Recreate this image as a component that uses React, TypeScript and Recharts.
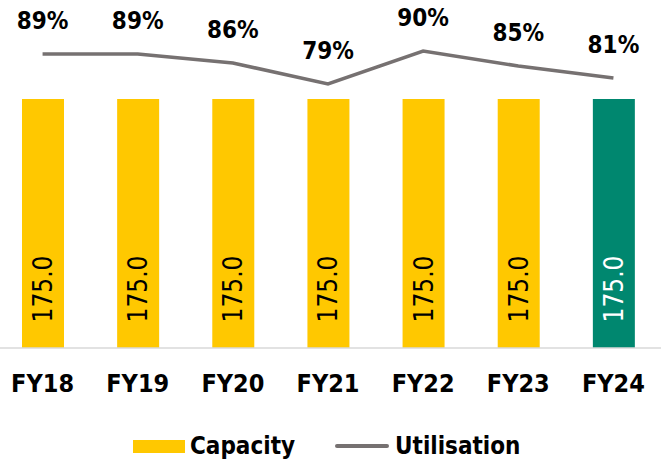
import { ComposedChart, Bar, Line, XAxis, YAxis, Legend, LabelList, Cell } from "recharts";

const years = ["FY18", "FY19", "FY20", "FY21", "FY22", "FY23", "FY24"];
const capacity = [175.0, 175.0, 175.0, 175.0, 175.0, 175.0, 175.0];
const utilisation = [89, 89, 86, 79, 90, 85, 81];

const YELLOW = "#FFC800";
const TEAL = "#00876F";
const GREY = "#767171";
const FONT = "'DejaVu Sans Condensed', 'DejaVu Sans', sans-serif";

const data = years.map((year, i) => ({
  year,
  capacity: capacity[i],
  utilisation: utilisation[i],
}));

const BarValue = (props: any) => {
  const { x, y, width, height, value, index } = props;
  const cx = x + width / 2;
  const cy = y + height - 59;
  return (
    <text
      x={cx}
      y={cy}
      transform={`rotate(-90 ${cx} ${cy})`}
      textAnchor="middle"
      dominantBaseline="central"
      fill={index === years.length - 1 ? "#fff" : "#000"}
      fontSize={26}
      fontFamily={FONT}
      fontStretch="condensed"
    >
      {Number(value).toFixed(1)}
    </text>
  );
};

const PctValue = (props: any) => {
  const { x, y, value } = props;
  return (
    <text
      x={x}
      y={y - 33}
      textAnchor="middle"
      dominantBaseline="central"
      fill="#000"
      fontSize={24}
      fontWeight="bold"
      fontFamily={FONT}
      fontStretch="condensed"
    >
      {value}%
    </text>
  );
};

const YearTick = (props: any) => {
  const { x, payload } = props;
  return (
    <text
      x={x}
      y={383}
      textAnchor="middle"
      dominantBaseline="central"
      fill="#000"
      fontSize={25}
      fontWeight="bold"
      fontFamily={FONT}
      fontStretch="condensed"
    >
      {payload.value}
    </text>
  );
};

const LegendBox = (props: any) => {
  const items = props.payload || [];
  return (
    <div
      style={{
        display: "flex",
        alignItems: "center",
        height: 50,
        paddingTop: 18,
        paddingLeft: 138,
        boxSizing: "border-box",
        fontFamily: FONT,
        fontStretch: "condensed",
        fontWeight: "bold",
        fontSize: 24,
        color: "#000",
      }}
    >
      {items.map((item: any) => (
        <div key={item.value} style={{ display: "flex", alignItems: "center", marginRight: 40 }}>
          {item.dataKey === "capacity" ? (
            <span style={{ display: "inline-block", width: 52, height: 13, background: YELLOW, marginRight: 5 }} />
          ) : (
            <span style={{ display: "inline-block", width: 54, height: 4, borderRadius: 2, background: GREY, marginRight: 6 }} />
          )}
          <span>{item.value}</span>
        </div>
      ))}
    </div>
  );
};

export default function App() {
  return (
    <div style={{ position: "absolute", left: 0, top: 0, background: "#fff" }}>
      <ComposedChart
        width={667}
        height={462}
        data={data}
        margin={{ top: 18, right: 6, bottom: 0, left: -5 }}
      >
        <XAxis
          dataKey="year"
          axisLine={{ stroke: "#D9D9D9", strokeWidth: 1.5 }}
          tickLine={false}
          tick={<YearTick />}
          height={64}
          interval={0}
        />
        <YAxis yAxisId="cap" domain={[0, 232]} hide />
        <YAxis yAxisId="util" orientation="right" domain={[-9, 101]} hide />
        <Legend verticalAlign="bottom" content={<LegendBox />} />
        <Bar
          yAxisId="cap"
          dataKey="capacity"
          name="Capacity"
          barSize={42}
          fill={YELLOW}
          isAnimationActive={false}
        >
          {data.map((d, i) => (
            <Cell key={d.year} fill={i === data.length - 1 ? TEAL : YELLOW} />
          ))}
          <LabelList dataKey="capacity" content={<BarValue />} />
        </Bar>
        <Line
          yAxisId="util"
          dataKey="utilisation"
          name="Utilisation"
          stroke={GREY}
          strokeWidth={3.5}
          dot={false}
          isAnimationActive={false}
        >
          <LabelList dataKey="utilisation" content={<PctValue />} />
        </Line>
      </ComposedChart>
    </div>
  );
}
